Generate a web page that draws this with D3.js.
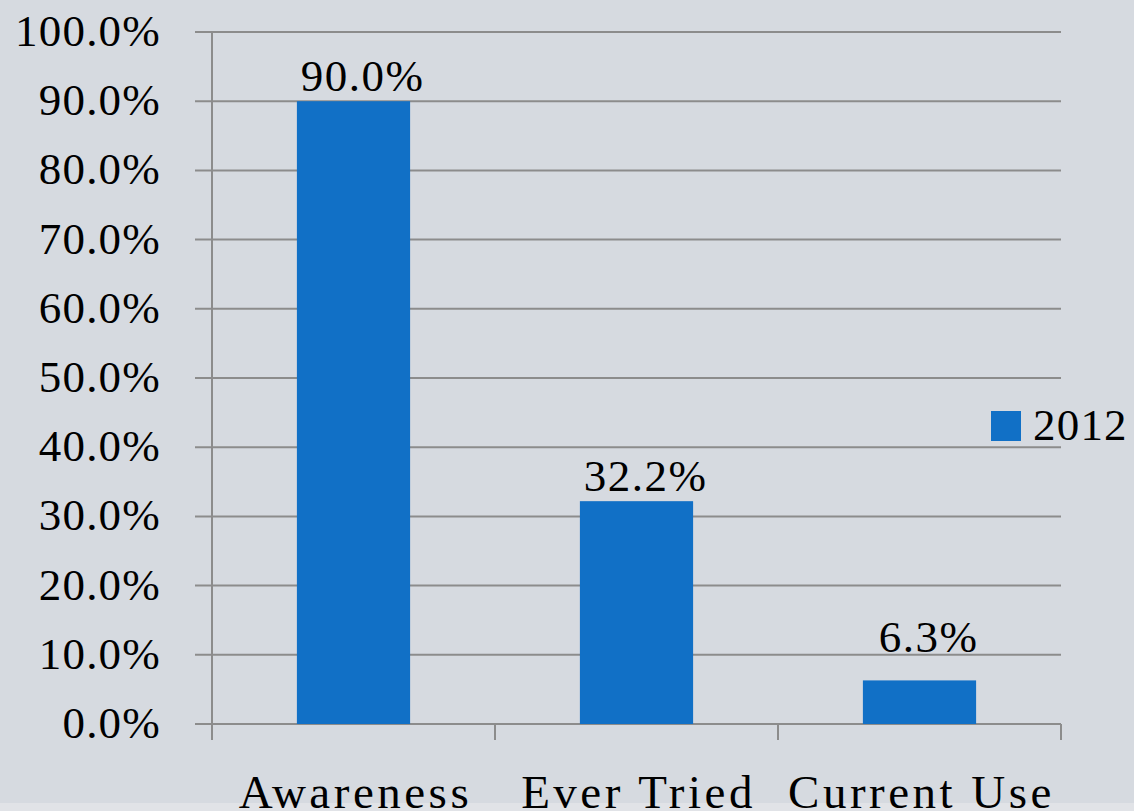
<!DOCTYPE html>
<html><head><meta charset="utf-8">
<script src="https://cdn.jsdelivr.net/npm/d3@7"></script>
<style>
html,body{margin:0;padding:0;background:#d6dae0;}
svg{display:block;}
text{font-family:"Liberation Serif","Times New Roman",serif;fill:#000;}
</style></head>
<body>
<svg id="chart" width="1134" height="811"></svg>
<script>
const categories = ["Awareness", "Ever Tried", "Current Use"];
const values2012 = [0.900, 0.322, 0.063];
const seriesName = "2012";
const yTicks = [0, 0.1, 0.2, 0.3, 0.4, 0.5, 0.6, 0.7, 0.8, 0.9, 1.0];

(function(){
const svg = d3.select("#chart");
svg.append("rect").attr("width",1134).attr("height",811).attr("fill","#d6dae0");
svg.append("rect").attr("x",0).attr("y",803).attr("width",1134).attr("height",8).attr("fill","#e1e3e7");

const pLeft = 212, pRight = 1061, pTop = 32, pBottom = 724;
const x = d3.scaleBand().domain(categories).range([pLeft, pRight]).paddingInner(0.6).paddingOuter(0.3);
const xb = d3.scaleBand().domain(categories).range([pLeft, pRight]).padding(0);
const y = d3.scaleLinear().domain([0, 1]).range([pBottom, pTop]);
const fmt = d3.format(".1%");
const grid = "#8c8c8c";

// gridlines
svg.append("g").selectAll("line").data(yTicks).join("line")
  .attr("x1", 195).attr("x2", pRight).attr("y1", d=>y(d)).attr("y2", d=>y(d))
  .attr("stroke", grid).attr("stroke-width", 2);
// y axis labels
const yAxis = d3.axisLeft(y).tickValues(yTicks).tickSize(0).tickFormat(fmt);
const gy = svg.append("g").attr("transform", `translate(${pLeft},0)`).call(yAxis);
gy.select(".domain").remove();
gy.attr("font-family", null).attr("font-size", null);
gy.selectAll("text").attr("x", -51).attr("dy", "0.3em")
  .style("font-size", "45px").style("letter-spacing", "1.2px")
  .style("font-family", '"Liberation Serif",serif').attr("fill","#000");

// y axis line
svg.append("line").attr("x1", pLeft).attr("x2", pLeft).attr("y1", pTop).attr("y2", 740)
  .attr("stroke", grid).attr("stroke-width", 2);
// x ticks
const xEdges = categories.map(c => xb(c) + xb.bandwidth());
svg.append("g").selectAll("line").data(xEdges).join("line")
  .attr("x1", d=>d).attr("x2", d=>d).attr("y1", pBottom).attr("y2", 740)
  .attr("stroke", grid).attr("stroke-width", 2);

// bars
svg.append("g").selectAll("rect").data(values2012).join("rect")
  .attr("x", (d,i)=>x(categories[i])).attr("width", x.bandwidth())
  .attr("y", d=>y(d)).attr("height", d=>pBottom - y(d))
  .attr("fill", "#1170c6");

// value labels
svg.append("g").selectAll("text").data(values2012).join("text")
  .attr("x", (d,i)=>x(categories[i]) + x.bandwidth()/2 + 9)
  .attr("y", d=>Math.min(y(d) - 10, y(0.1) - 3))
  .attr("text-anchor","middle").style("font-size","45px").style("letter-spacing","1.5px").text(d=>fmt(d));

// category labels
svg.append("g").selectAll("text").data(categories).join("text")
  .attr("x", c=>xb(c) + xb.bandwidth()/2 + 2).attr("y", 808)
  .attr("text-anchor","middle").style("font-size","47px").style("letter-spacing","3.5px").text(c=>c);

// legend
svg.append("rect").attr("x",991).attr("y",411).attr("width",30).attr("height",30).attr("fill","#1170c6");
svg.append("text").attr("x",1033).attr("y",440).style("font-size","45px").style("letter-spacing","1.2px").text(seriesName);
})();
</script>
</body></html>
